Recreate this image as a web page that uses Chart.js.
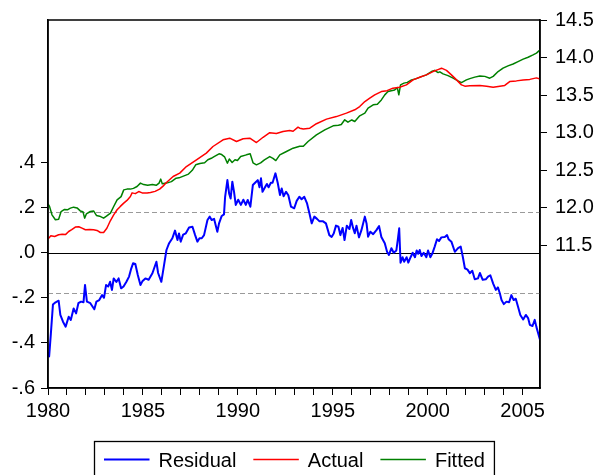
<!DOCTYPE html>
<html>
<head>
<meta charset="utf-8">
<script src="https://cdn.jsdelivr.net/npm/chart.js@4/dist/chart.umd.min.js"></script>
<style>
  html, body { margin: 0; padding: 0; background: #ffffff; }
  canvas { display: block; }
</style>
</head>
<body>
<canvas id="chart" width="599" height="475"></canvas>
<script>
// Residual (left axis), Actual and Fitted (right axis), monthly sample 1980M01-2005M12

const residualYears = [
  1980.00, 1980.06, 1980.15, 1980.26, 1980.40, 1980.56, 1980.65, 1980.79, 1980.93, 1981.09,
  1981.20, 1981.35, 1981.48, 1981.60, 1981.74, 1981.87, 1981.95, 1982.05, 1982.23, 1982.44,
  1982.55, 1982.70, 1982.85, 1982.95, 1983.06, 1983.17, 1983.27, 1983.37, 1983.46, 1983.60,
  1983.72, 1983.85, 1983.98, 1984.13, 1984.27, 1984.37, 1984.48, 1984.60, 1984.73, 1984.87,
  1984.97, 1985.13, 1985.30, 1985.50, 1985.71, 1985.80, 1985.97, 1986.10, 1986.24, 1986.38,
  1986.55, 1986.69, 1986.82, 1986.90, 1986.99, 1987.12, 1987.26, 1987.43, 1987.61, 1987.75,
  1987.87, 1987.98, 1988.10, 1988.22, 1988.40, 1988.52, 1988.62, 1988.75, 1988.83, 1988.92,
  1989.01, 1989.15, 1989.27, 1989.33, 1989.45, 1989.54, 1989.62, 1989.71, 1989.80, 1989.89,
  1990.02, 1990.16, 1990.29, 1990.42, 1990.52, 1990.66, 1990.79, 1990.91, 1991.05, 1991.14,
  1991.22, 1991.30, 1991.43, 1991.53, 1991.62, 1991.74, 1991.83, 1991.98, 1992.10, 1992.22,
  1992.31, 1992.41, 1992.54, 1992.66, 1992.80, 1992.97, 1993.10, 1993.24, 1993.36, 1993.50,
  1993.64, 1993.77, 1993.89, 1994.03, 1994.17, 1994.29, 1994.47, 1994.64, 1994.82, 1994.94,
  1995.05, 1995.17, 1995.30, 1995.40, 1995.52, 1995.62, 1995.74, 1995.88, 1995.97, 1996.07,
  1996.16, 1996.25, 1996.38, 1996.51, 1996.69, 1996.78, 1996.86, 1996.98, 1997.13, 1997.30,
  1997.44, 1997.56, 1997.74, 1997.86, 1997.96, 1998.09, 1998.21, 1998.35, 1998.43, 1998.50,
  1998.57, 1998.68, 1998.76, 1998.89, 1998.98, 1999.10, 1999.21, 1999.33, 1999.42, 1999.50,
  1999.58, 1999.67, 1999.79, 1999.93, 2000.02, 2000.14, 2000.24, 2000.37, 2000.49, 2000.60,
  2000.72, 2000.90, 2001.02, 2001.10, 2001.25, 2001.43, 2001.60, 2001.74, 2001.85, 2001.96,
  2002.10, 2002.22, 2002.35, 2002.48, 2002.65, 2002.75, 2002.90, 2003.06, 2003.18, 2003.30,
  2003.45, 2003.59, 2003.70, 2003.80, 2003.89, 2004.01, 2004.15, 2004.29, 2004.41, 2004.53,
  2004.64, 2004.76, 2004.88, 2005.03, 2005.17, 2005.29, 2005.38, 2005.52, 2005.64, 2005.73,
  2005.82, 2005.92
];
const residualValues = [
  -0.440, -0.460, -0.360, -0.230, -0.220, -0.213, -0.276, -0.306, -0.328, -0.284,
  -0.298, -0.247, -0.269, -0.224, -0.217, -0.220, -0.143, -0.217, -0.224, -0.251,
  -0.217, -0.210, -0.188, -0.200, -0.143, -0.150, -0.129, -0.165, -0.114, -0.130,
  -0.114, -0.158, -0.150, -0.129, -0.106, -0.074, -0.047, -0.050, -0.099, -0.143,
  -0.127, -0.114, -0.120, -0.091, -0.040, -0.090, -0.129, -0.062, 0.012, 0.042,
  0.064, 0.098, 0.056, 0.085, 0.049, 0.080, 0.086, 0.112, 0.115, 0.078,
  0.049, 0.064, 0.064, 0.078, 0.145, 0.160, 0.145, 0.150, 0.123, 0.093,
  0.130, 0.163, 0.170, 0.248, 0.322, 0.263, 0.240, 0.315, 0.270, 0.212,
  0.235, 0.212, 0.235, 0.212, 0.234, 0.204, 0.300, 0.310, 0.322, 0.290,
  0.330, 0.270, 0.290, 0.305, 0.290, 0.310, 0.310, 0.352, 0.310, 0.256,
  0.285, 0.250, 0.270, 0.255, 0.204, 0.197, 0.230, 0.248, 0.237, 0.248,
  0.220, 0.175, 0.130, 0.160, 0.150, 0.140, 0.140, 0.130, 0.078, 0.070,
  0.085, 0.120, 0.115, 0.078, 0.110, 0.056, 0.120, 0.105, 0.145, 0.110,
  0.086, 0.120, 0.068, 0.100, 0.160, 0.130, 0.071, 0.093, 0.082, 0.100,
  0.118, 0.070, 0.042, 0.004, -0.010, 0.020, 0.000, 0.010, 0.060, 0.108,
  -0.044, -0.020, -0.040, -0.020, -0.044, -0.020, 0.000, -0.020, 0.010, -0.005,
  0.012, -0.015, 0.000, -0.020, 0.010, -0.020, -0.005, 0.027, 0.060, 0.052,
  0.068, 0.070, 0.078, 0.060, 0.049, 0.004, 0.020, 0.027, -0.018, -0.069,
  -0.075, -0.091, -0.080, -0.118, -0.114, -0.090, -0.120, -0.118, -0.106, -0.100,
  -0.137, -0.165, -0.154, -0.180, -0.210, -0.228, -0.217, -0.220, -0.188, -0.210,
  -0.204, -0.240, -0.276, -0.296, -0.276, -0.290, -0.320, -0.325, -0.298, -0.330,
  -0.357, -0.387
];

const actualYears = [
  1980.00, 1980.15, 1980.35, 1980.56, 1980.75, 1980.92, 1981.09, 1981.25, 1981.44, 1981.62,
  1981.79, 1981.97, 1982.20, 1982.40, 1982.58, 1982.76, 1982.93, 1983.10, 1983.29, 1983.46,
  1983.64, 1983.81, 1983.99, 1984.16, 1984.34, 1984.43, 1984.60, 1984.78, 1984.96, 1985.22,
  1985.40, 1985.64, 1985.88, 1986.06, 1986.24, 1986.59, 1986.94, 1987.29, 1987.82, 1988.34,
  1988.69, 1989.22, 1989.57, 1989.93, 1990.28, 1990.63, 1990.98, 1991.33, 1991.68, 1992.03,
  1992.38, 1992.73, 1992.91, 1993.17, 1993.26, 1993.45, 1993.79, 1994.14, 1994.67, 1995.19,
  1995.72, 1996.16, 1996.42, 1996.69, 1996.95, 1997.21, 1997.56, 1997.86, 1998.17, 1998.52,
  1998.88, 1999.23, 1999.58, 1999.93, 2000.28, 2000.54, 2000.73, 2000.99, 2001.25, 2001.52,
  2001.78, 2001.96, 2002.22, 2002.75, 2003.10, 2003.45, 2003.80, 2004.06, 2004.32, 2004.67,
  2005.03, 2005.38, 2005.73, 2005.92
];
const actualValues = [
  11.585, 11.629, 11.620, 11.642, 11.650, 11.645, 11.686, 11.710, 11.745, 11.750,
  11.731, 11.709, 11.712, 11.710, 11.700, 11.673, 11.673, 11.730, 11.832, 11.908,
  11.975, 12.020, 12.064, 12.100, 12.152, 12.200, 12.190, 12.218, 12.200, 12.197,
  12.205, 12.220, 12.250, 12.290, 12.338, 12.418, 12.463, 12.550, 12.640, 12.729,
  12.817, 12.906, 12.928, 12.883, 12.920, 12.928, 12.870, 12.940, 13.000, 12.990,
  13.016, 13.030, 13.020, 13.074, 13.061, 13.050, 13.061, 13.120, 13.181, 13.215,
  13.261, 13.305, 13.348, 13.415, 13.460, 13.504, 13.548, 13.560, 13.593, 13.606,
  13.637, 13.703, 13.739, 13.770, 13.814, 13.840, 13.859, 13.830, 13.770, 13.703,
  13.637, 13.620, 13.624, 13.630, 13.620, 13.606, 13.620, 13.630, 13.681, 13.690,
  13.703, 13.710, 13.730, 13.713
];

const fittedYears = [
  1980.00, 1980.08, 1980.21, 1980.39, 1980.56, 1980.69, 1980.87, 1981.02, 1981.18, 1981.35,
  1981.53, 1981.70, 1981.84, 1981.93, 1982.02, 1982.23, 1982.40, 1982.55, 1982.72, 1982.93,
  1983.08, 1983.29, 1983.46, 1983.64, 1983.85, 1983.99, 1984.16, 1984.34, 1984.50, 1984.69,
  1984.87, 1985.04, 1985.25, 1985.50, 1985.70, 1985.85, 1985.94, 1986.02, 1986.24, 1986.50,
  1986.75, 1986.90, 1987.10, 1987.40, 1987.60, 1987.78, 1988.00, 1988.25, 1988.42, 1988.60,
  1988.75, 1989.01, 1989.15, 1989.30, 1989.45, 1989.55, 1989.70, 1989.85, 1989.98, 1990.15,
  1990.45, 1990.65, 1990.80, 1990.98, 1991.20, 1991.40, 1991.68, 1991.85, 1992.00, 1992.21,
  1992.56, 1992.91, 1993.26, 1993.45, 1993.70, 1994.14, 1994.58, 1995.02, 1995.30, 1995.45,
  1995.63, 1995.80, 1996.00, 1996.16, 1996.42, 1996.69, 1996.86, 1997.13, 1997.35, 1997.56,
  1997.74, 1997.91, 1998.08, 1998.26, 1998.40, 1998.48, 1998.57, 1998.75, 1998.93, 1999.15,
  1999.40, 1999.67, 1999.93, 2000.20, 2000.37, 2000.55, 2000.64, 2000.81, 2001.07, 2001.34,
  2001.60, 2001.78, 2002.04, 2002.22, 2002.48, 2002.75, 2003.01, 2003.27, 2003.45, 2003.71,
  2003.97, 2004.23, 2004.50, 2004.76, 2005.03, 2005.29, 2005.55, 2005.73, 2005.92
];
const fittedValues = [
  12.055, 12.020, 11.908, 11.842, 11.850, 11.952, 11.980, 11.975, 11.997, 12.010,
  12.000, 11.960, 11.950, 11.864, 11.920, 11.952, 11.960, 11.900, 11.890, 11.864,
  11.890, 11.930, 12.019, 12.108, 12.150, 12.240, 12.250, 12.250, 12.260, 12.285,
  12.330, 12.310, 12.300, 12.310, 12.300, 12.330, 12.383, 12.320, 12.330, 12.350,
  12.396, 12.400, 12.420, 12.450, 12.500, 12.573, 12.590, 12.600, 12.640, 12.660,
  12.683, 12.720, 12.710, 12.680, 12.595, 12.650, 12.605, 12.640, 12.630, 12.683,
  12.706, 12.720, 12.600, 12.573, 12.600, 12.640, 12.683, 12.660, 12.630, 12.706,
  12.750, 12.795, 12.820, 12.820, 12.883, 12.972, 13.039, 13.092, 13.100, 13.110,
  13.172, 13.140, 13.170, 13.150, 13.225, 13.260, 13.327, 13.371, 13.380, 13.437,
  13.504, 13.548, 13.560, 13.570, 13.600, 13.504, 13.637, 13.660, 13.670, 13.703,
  13.720, 13.747, 13.770, 13.814, 13.830, 13.800, 13.810, 13.783, 13.760, 13.726,
  13.690, 13.667, 13.703, 13.720, 13.740, 13.756, 13.750, 13.726, 13.750, 13.814,
  13.859, 13.890, 13.915, 13.947, 13.979, 14.005, 14.036, 14.060, 14.102
];

// Regression standard error band drawn as dashed lines around zero
const seBand = 0.18;

// Axis ticks and labels
const leftTickValues = [-0.6, -0.4, -0.2, 0.0, 0.2, 0.4];
const leftTickLabels = ['-.6', '-.4', '-.2', '.0', '.2', '.4'];
const rightTickValues = [11.5, 12.0, 12.5, 13.0, 13.5, 14.0, 14.5];
const rightTickLabels = ['11.5', '12.0', '12.5', '13.0', '13.5', '14.0', '14.5'];
const yearTickLabels = ['1980', '1985', '1990', '1995', '2000', '2005'];

const FONT = "'Liberation Sans', Arial, Helvetica, sans-serif";
Chart.defaults.font.family = FONT;
Chart.defaults.font.size = 20;
Chart.defaults.color = '#000000';

const toPoints = (xs, ys) => xs.map((x, i) => ({ x: x, y: ys[i] }));

function labelFor(values, labels, v) {
  const i = values.findIndex(t => Math.abs(t - v) < 1e-6);
  return i >= 0 ? labels[i] : '';
}

// Horizontal zero line and the dashed +/- band, under the series
const referenceLines = {
  id: 'referenceLines',
  beforeDatasetsDraw(chart) {
    const { ctx, chartArea } = chart;
    const yL = chart.scales.yL;
    ctx.save();
    ctx.lineWidth = 1;
    ctx.strokeStyle = '#9a9a9a';
    ctx.setLineDash([5, 3]);
    [seBand, -seBand].forEach(v => {
      const y = Math.round(yL.getPixelForValue(v)) + 0.5;
      ctx.beginPath();
      ctx.moveTo(chartArea.left, y);
      ctx.lineTo(chartArea.right, y);
      ctx.stroke();
    });
    ctx.setLineDash([]);
    ctx.strokeStyle = '#000000';
    const y0 = Math.round(yL.getPixelForValue(0)) + 0.5;
    ctx.beginPath();
    ctx.moveTo(chartArea.left, y0);
    ctx.lineTo(chartArea.right, y0);
    ctx.stroke();
    ctx.restore();
  }
};

// Box around the plot area
const plotFrame = {
  id: 'plotFrame',
  afterDatasetsDraw(chart) {
    const { ctx, chartArea } = chart;
    ctx.save();
    ctx.strokeStyle = '#000000';
    ctx.lineWidth = 1.5;
    ctx.strokeRect(chartArea.left, chartArea.top, chartArea.right - chartArea.left, chartArea.bottom - chartArea.top);
    ctx.restore();
  }
};

// Boxed legend below the year axis
const boxedLegend = {
  id: 'boxedLegend',
  afterDraw(chart) {
    const { ctx, chartArea } = chart;
    const items = chart.data.datasets.map(d => ({ label: d.label, color: d.borderColor, lw: d.borderWidth }));
    ctx.save();
    ctx.font = '20px ' + FONT;
    const pad = 9.5, sample = 45.5, gapText = 9, gapItem = 17;
    let width = pad * 2;
    items.forEach((it, i) => {
      it.w = ctx.measureText(it.label).width;
      width += sample + gapText + it.w + (i < items.length - 1 ? gapItem : 0);
    });
    const cx = (chartArea.left + chartArea.right) / 2;
    const left = Math.round(cx - width / 2) + 0.5;
    const top = 441.5;
    ctx.strokeStyle = '#000000';
    ctx.lineWidth = 1.3;
    ctx.strokeRect(left, top, width, 60);
    let x = left + pad;
    const lineY = 459.5, textY = 466.5;
    items.forEach(it => {
      ctx.strokeStyle = it.color;
      ctx.lineWidth = it.lw;
      ctx.beginPath();
      ctx.moveTo(x, lineY);
      ctx.lineTo(x + sample, lineY);
      ctx.stroke();
      x += sample + gapText;
      ctx.fillStyle = '#000000';
      ctx.textAlign = 'left';
      ctx.textBaseline = 'alphabetic';
      ctx.fillText(it.label, x, textY);
      x += it.w + gapItem;
    });
    ctx.restore();
  }
};

const lineStyle = { pointRadius: 0, tension: 0, fill: false, borderJoinStyle: 'round' };

new Chart(document.getElementById('chart'), {
  type: 'line',
  data: {
    datasets: [
      Object.assign({ label: 'Residual', data: toPoints(residualYears, residualValues), yAxisID: 'yL', borderColor: '#0000ff', borderWidth: 2 }, lineStyle),
      Object.assign({ label: 'Actual', data: toPoints(actualYears, actualValues), yAxisID: 'yR', borderColor: '#ff0000', borderWidth: 1.5 }, lineStyle),
      Object.assign({ label: 'Fitted', data: toPoints(fittedYears, fittedValues), yAxisID: 'yR', borderColor: '#008000', borderWidth: 1.5 }, lineStyle)
    ]
  },
  options: {
    responsive: false,
    animation: false,
    devicePixelRatio: 1,
    layout: { padding: { top: 20, left: 0, right: 0, bottom: 0 } },
    plugins: { legend: { display: false }, tooltip: { enabled: false } },
    scales: {
      x: {
        type: 'linear',
        position: 'bottom',
        min: 1980,
        max: 2005 + 11 / 12,
        afterBuildTicks(scale) {
          const t = [];
          for (let y = 1980; y <= 2005; y++) t.push({ value: y });
          scale.ticks = t;
        },
        afterFit(scale) { scale.height = 87; },
        ticks: {
          autoSkip: false,
          maxRotation: 0,
          padding: 4,
          color: '#000000',
          callback: v => (yearTickLabels.includes(String(v)) ? String(v) : '')
        },
        grid: { drawOnChartArea: false, drawTicks: true, tickLength: 7, color: '#000000', tickWidth: 1 },
        border: { display: true, color: '#000000', width: 1.5 }
      },
      yL: {
        type: 'linear',
        position: 'left',
        min: -0.6,
        max: 1.032,
        afterBuildTicks(scale) { scale.ticks = leftTickValues.map(v => ({ value: v })); },
        afterFit(scale) { scale.width = 48; },
        ticks: {
          padding: 6,
          color: '#000000',
          callback: v => labelFor(leftTickValues, leftTickLabels, v)
        },
        grid: { drawOnChartArea: false, drawTicks: true, tickLength: 7, color: '#000000', tickWidth: 1 },
        border: { display: true, color: '#000000', width: 1.5 }
      },
      yR: {
        type: 'linear',
        position: 'right',
        min: 9.604,
        max: 14.5,
        afterBuildTicks(scale) { scale.ticks = rightTickValues.map(v => ({ value: v })); },
        afterFit(scale) { scale.width = 59; },
        ticks: {
          padding: 8,
          color: '#000000',
          callback: v => labelFor(rightTickValues, rightTickLabels, v)
        },
        grid: { drawOnChartArea: false, drawTicks: true, tickLength: 7, color: '#000000', tickWidth: 1 },
        border: { display: true, color: '#000000', width: 1.5 }
      }
    }
  },
  plugins: [referenceLines, plotFrame, boxedLegend]
});
</script>
</body>
</html>
